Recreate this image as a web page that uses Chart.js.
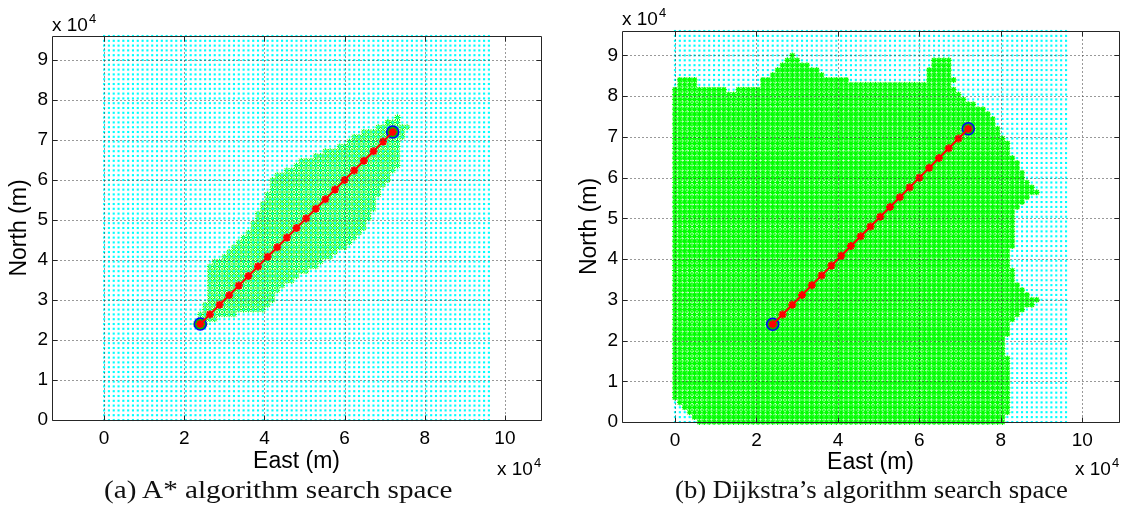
<!DOCTYPE html>
<html><head><meta charset="utf-8">
<script src="https://cdn.jsdelivr.net/npm/chart.js@4.4.0/dist/chart.umd.min.js"></script>
<style>
html,body{margin:0;padding:0;background:#fff;width:1130px;height:519px;overflow:hidden;position:relative;font-family:'Liberation Sans',Arial,sans-serif;}
.pane{position:absolute;top:0;width:565px;height:519px;}
canvas{display:block;}
.exp{position:absolute;font-size:19px;color:#000;white-space:nowrap;line-height:19px;height:19px;}
.exp .e{font-size:13px;position:relative;top:-8px;margin-left:1px;}
.cap{position:absolute;font-family:'Liberation Serif','Times New Roman',serif;font-size:25px;white-space:nowrap;line-height:25px;color:#111;transform-origin:left center;}
</style></head><body>
<div class="pane" style="left:0"><canvas id="c1" width="565" height="519"></canvas></div>
<div class="pane" style="left:565px"><canvas id="c2" width="565" height="519"></canvas></div>
<div class="exp" style="left:52px;top:15px">x 10<span class="e">4</span></div>
<div class="exp" style="left:622px;top:9px">x 10<span class="e">4</span></div>
<div class="exp" id="ex1" style="top:459px">x 10<span class="e">4</span></div>
<div class="exp" id="ex2" style="top:459px">x 10<span class="e">4</span></div>
<div class="cap" id="cap1" style="top:477px">(a) A* algorithm search space</div>
<div class="cap" id="cap2" style="top:477px">(b) Dijkstra’s algorithm search space</div>
<script>
// ---- grid lattice coordinates (m) ----
const gridVals = [0,1200,2400,3600,4800,6000,7200,8400,9600,10800,12000,13200,14400,15600,16800,18000,19200,20400,21600,22800,24000,25200,26400,27600,28800,30000,31200,32400,33600,34800,36000,37200,38400,39600,40800,42000,43200,44400,45600,46800,48000,49200,50400,51600,52800,54000,55200,56400,57600,58800,60000,61200,62400,63600,64800,66000,67200,68400,69600,70800,72000,73200,74400,75600,76800,78000,79200,80400,81600,82800,84000,85200,86400,87600,88800,90000,91200,92400,93600,94800,96000];
// ---- path (m) ----
const pathX = [24000,26400,28800,31200,33600,36000,38400,40800,43200,45600,48000,50400,52800,55200,57600,60000,62400,64800,67200,69600,72000];
const pathY = [24000,26400,28800,31200,33600,36000,38400,40800,43200,45600,48000,50400,52800,55200,57600,60000,62400,64800,67200,69600,72000];
const startPt = [24000,24000];
const goalPt = [72000,72000];
// ---- ticks ----
const xTicks = [0,20000,40000,60000,80000,100000];
const yTicks = [0,10000,20000,30000,40000,50000,60000,70000,80000,90000];
// ---- A* explored nodes: row index, first and last column index ----
const aStarRows  = [20,21,22,23,24,25,26,27,28,29,30,31,32,33,34,35,36,37,38,39,40,41,42,43,44,45,46,47,48,49,50,51,52,53,54,55,56,57,58,59,60,61,62,63];
const aStarLeft  = [19,20,20,21,21,22,22,22,22,22,22,22,22,23,25,26,27,28,29,30,31,31,32,32,33,33,34,34,35,35,35,36,38,40,41,44,46,49,51,52,54,57,59,61];
const aStarRight = [21,23,27,33,34,35,35,36,37,39,40,42,44,45,47,48,50,51,52,53,54,54,55,55,56,56,56,57,57,58,59,59,60,61,61,61,61,61,61,62,62,62,61,61];
const aStarExtra = [[63,61],[59,62],[61,63]];
// ---- Dijkstra explored nodes: per row (0..75) first/last column, per column (0..80) top row ----
const dijLeft  = [5,4,3,2,1,0,0,0,0,0,0,0,0,0,0,0,0,0,0,0,0,0,0,0,0,0,0,0,0,0,0,0,0,0,0,0,0,0,0,0,0,0,0,0,0,0,0,0,0,0,0,0,0,0,0,0,0,0,0,0,0,0,0,0,0,0,0,0,0,0,0,0,0,0,0,20];
const dijRight = [67,67,68,68,68,68,68,68,68,68,68,68,68,68,67,67,67,67,68,68,68,69,70,71,73,74,72,71,70,69,69,69,68,68,68,68,69,69,69,69,69,69,69,69,70,71,72,74,73,72,71,71,70,70,69,68,68,68,67,66,66,65,65,64,63,61,59,58,57,56,57,57,57,56,56,30];
const dijTop   = [68,70,70,70,70,68,68,68,68,68,68,67,67,68,68,68,68,68,70,70,71,72,73,74,75,74,73,73,72,72,71,70,70,70,70,70,69,69,69,69,69,69,69,69,69,69,69,69,69,69,69,69,72,74,74,74,74,70,70,70,70,70,70,70,70,70,70,70,70,70,70,70,70,70,70,70,70,70,70,70,70];

function latticePts(){ const p=[]; for (const yv of gridVals) for (const xv of gridVals) p.push({x:xv,y:yv}); return p; }
function aStarPts(){ const p=[]; aStarRows.forEach((r,i)=>{ for(let c=aStarLeft[i]; c<=aStarRight[i]; c++) p.push({x:gridVals[c],y:gridVals[r]}); }); aStarExtra.forEach(([c,r])=>p.push({x:gridVals[c],y:gridVals[r]})); return p; }
function dijPts(){ const p=[]; dijRight.forEach((rt,r)=>{ for(let c=dijLeft[r]; c<=rt; c++) if (r<=dijTop[c]) p.push({x:gridVals[c],y:gridVals[r]}); }); return p; }
const pathPts = pathX.map((x,i)=>({x, y:pathY[i]}));

const framePlugin = {
  id:'frame',
  afterDatasetsDraw(chart){
    const {ctx, chartArea:{left,right,top,bottom}, scales:{x,y}} = chart;
    const L=Math.round(left)+0.5, R=Math.round(right)+0.5, T=Math.round(top)+0.5, B=Math.round(bottom)+0.5;
    ctx.save();
    ctx.lineWidth=1; ctx.strokeStyle='#333'; ctx.setLineDash([1,3]);
    xTicks.forEach(v=>{ const px=Math.round(x.getPixelForValue(v))+0.5; ctx.beginPath(); ctx.moveTo(px,T); ctx.lineTo(px,B); ctx.stroke(); });
    yTicks.forEach(v=>{ if(v===0) return; const py=Math.round(y.getPixelForValue(v))+0.5; ctx.beginPath(); ctx.moveTo(L,py); ctx.lineTo(R,py); ctx.stroke(); });
    ctx.setLineDash([]); ctx.strokeStyle='#262626';
    ctx.beginPath(); ctx.rect(L,T,R-L,B-T); ctx.stroke();
    const tl=5;
    xTicks.forEach(v=>{ const px=Math.round(x.getPixelForValue(v))+0.5; ctx.beginPath(); ctx.moveTo(px,B); ctx.lineTo(px,B-tl); ctx.moveTo(px,T); ctx.lineTo(px,T+tl); ctx.stroke(); });
    yTicks.forEach(v=>{ const py=Math.round(y.getPixelForValue(v))+0.5; ctx.beginPath(); ctx.moveTo(L,py); ctx.lineTo(L+tl,py); ctx.moveTo(R,py); ctx.lineTo(R-tl,py); ctx.stroke(); });
    ctx.restore();
  }
};

const tickFont = {family:"'Liberation Sans', Arial, sans-serif", size:19};
const titleFont = {family:"'Liberation Sans', Arial, sans-serif", size:23, lineHeight:1};

function makeChart(id, explored, greenOnTop, pad, yW, xH){
  return new Chart(document.getElementById(id), {
    type:'scatter',
    data:{datasets:[
      {data:pathPts, showLine:true, borderColor:'#ff0000', borderWidth:2, pointStyle:'star', pointRadius:4, pointBorderWidth:2, pointBorderColor:'#ff0000', pointBackgroundColor:'#ff0000', order:0, clip:false},
      {data:[{x:startPt[0],y:startPt[1]},{x:goalPt[0],y:goalPt[1]}], pointStyle:'circle', pointRadius:6, pointBackgroundColor:'#00c000', pointBorderColor:'#0000ff', pointBorderWidth:1.5, order:1, clip:false},
      {data:latticePts(), pointStyle:'rect', pointRadius:1.5, pointBackgroundColor:'#00ffff', pointBorderWidth:0, order:greenOnTop?3:2, clip:false},
      {data:explored, pointStyle:'star', pointRadius:3, pointBorderColor:'#00ff00', pointBackgroundColor:'#00ff00', pointBorderWidth:greenOnTop?1.2:1, order:greenOnTop?2:3, clip:false}
    ]},
    options:{
      responsive:false, animation:false, events:[],
      plugins:{legend:{display:false}, tooltip:{enabled:false}},
      layout:{padding:pad},
      scales:{
        x:{type:'linear', min:-13000, max:109000,
           afterBuildTicks:s=>{ s.ticks = xTicks.map(v=>({value:v})); },
           afterFit:s=>{ s.height = xH; },
           grid:{display:false, drawTicks:false}, border:{display:false},
           ticks:{callback:v=>String(v/10000), font:tickFont, color:'#000', padding:7, maxRotation:0, autoSkip:false},
           title:{display:true, text:'East (m)', font:titleFont, color:'#000', padding:{top:0,bottom:0}}},
        y:{type:'linear', min:0, max:96000,
           afterBuildTicks:s=>{ s.ticks = yTicks.map(v=>({value:v})); },
           afterFit:s=>{ s.width = yW; },
           grid:{display:false, drawTicks:false}, border:{display:false},
           ticks:{callback:v=>String(v/10000), font:tickFont, color:'#000', padding:4, autoSkip:false},
           title:{display:true, text:'North (m)', font:titleFont, color:'#000', padding:{top:1,bottom:0}}}
      }
    },
    plugins:[framePlugin]
  });
}
makeChart('c1', aStarPts(), false, {left:7, right:24, top:36, bottom:46}, 45, 53);
makeChart('c2', dijPts(), true, {left:12, right:11, top:31, bottom:45}, 45, 52);

// place exponent labels and captions
function rightAlign(id, rightEdge){ const el=document.getElementById(id); el.style.left=(rightEdge-el.offsetWidth)+'px'; }
rightAlign('ex1', 541); rightAlign('ex2', 1119);
function fitCap(id, l, r){ const el=document.getElementById(id); const w=el.offsetWidth; el.style.left=l+'px'; el.style.transform='scaleX('+((r-l)/w)+')'; }
fitCap('cap1', 104, 453); fitCap('cap2', 675, 1068);
</script>
</body></html>
